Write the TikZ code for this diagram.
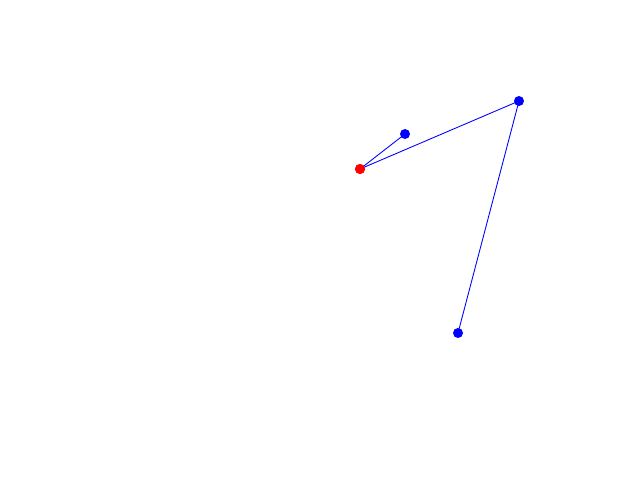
\documentclass[tikz,border=0pt]{standalone}
\usepackage{tikz}

\begin{document}
\begin{tikzpicture}[x=0.02cm,y=-0.02cm,
    dot/.style={circle,inner sep=0pt,minimum size=0.2cm},
    link/.style={blue,line width=0.5pt}]
    \useasboundingbox (0,0) rectangle (640,480);

    \node[dot,fill=red]  (r)  at (360,169) {};
    \node[dot,fill=blue] (b1) at (405,134) {};
    \node[dot,fill=blue] (b2) at (519,101) {};
    \node[dot,fill=blue] (b3) at (458,333) {};

    \draw[link] (r.center) -- (b1.center);
    \draw[link] (r.center) -- (b2.center);
    \draw[link] (b2.center) -- (b3.center);
    \node[dot,fill=red] at (r) {};
  \end{tikzpicture}
\end{document}
